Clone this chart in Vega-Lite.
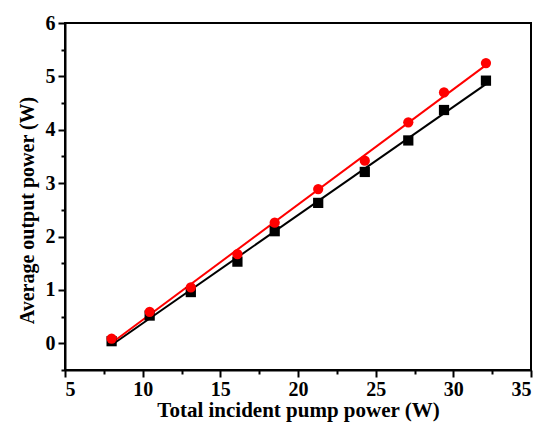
{
  "$schema": "https://vega.github.io/schema/vega-lite/v6.json",
  "width": 466,
  "height": 347,
  "autosize": {"type": "none"},
  "padding": {"left": 65, "top": 23, "right": 13, "bottom": 53},
  "background": "white",
  "config": {
    "view": {"stroke": "black", "strokeWidth": 2},
    "font": "Liberation Serif",
    "axis": {
      "domainColor": "black", "domainWidth": 2, "tickColor": "black", "tickWidth": 2,
      "labelFont": "Liberation Serif", "labelFontWeight": "bold", "labelFontSize": 20, "labelColor": "black",
      "titleFont": "Liberation Serif", "titleFontWeight": "bold", "titleFontSize": 20, "titleColor": "black",
      "grid": false
    },
    "legend": {
      "labelFont": "Liberation Serif", "labelFontWeight": "bold", "labelFontSize": 20, "labelColor": "black",
      "labelLimit": 0, "labelOffset": 28, "rowPadding": 12, "symbolSize": 110, "padding": 0
    }
  },
  "data": {
    "values": [
      {"x": 8.0, "y": 0.04, "series": "T=30%, L=80 Slope ηₛ=20.2%"},
      {"x": 10.45, "y": 0.52, "series": "T=30%, L=80 Slope ηₛ=20.2%"},
      {"x": 13.1, "y": 0.96, "series": "T=30%, L=80 Slope ηₛ=20.2%"},
      {"x": 16.1, "y": 1.53, "series": "T=30%, L=80 Slope ηₛ=20.2%"},
      {"x": 18.5, "y": 2.10, "series": "T=30%, L=80 Slope ηₛ=20.2%"},
      {"x": 21.3, "y": 2.63, "series": "T=30%, L=80 Slope ηₛ=20.2%"},
      {"x": 24.3, "y": 3.21, "series": "T=30%, L=80 Slope ηₛ=20.2%"},
      {"x": 27.1, "y": 3.80, "series": "T=30%, L=80 Slope ηₛ=20.2%"},
      {"x": 29.4, "y": 4.37, "series": "T=30%, L=80 Slope ηₛ=20.2%"},
      {"x": 32.1, "y": 4.92, "series": "T=30%, L=80 Slope ηₛ=20.2%"},
      {"x": 8.0, "y": 0.09, "series": "T=30%, L=20 Slope ηₛ=21.6%"},
      {"x": 10.45, "y": 0.59, "series": "T=30%, L=20 Slope ηₛ=21.6%"},
      {"x": 13.1, "y": 1.05, "series": "T=30%, L=20 Slope ηₛ=21.6%"},
      {"x": 16.1, "y": 1.67, "series": "T=30%, L=20 Slope ηₛ=21.6%"},
      {"x": 18.5, "y": 2.26, "series": "T=30%, L=20 Slope ηₛ=21.6%"},
      {"x": 21.3, "y": 2.89, "series": "T=30%, L=20 Slope ηₛ=21.6%"},
      {"x": 24.3, "y": 3.42, "series": "T=30%, L=20 Slope ηₛ=21.6%"},
      {"x": 27.1, "y": 4.14, "series": "T=30%, L=20 Slope ηₛ=21.6%"},
      {"x": 29.4, "y": 4.70, "series": "T=30%, L=20 Slope ηₛ=21.6%"},
      {"x": 32.1, "y": 5.25, "series": "T=30%, L=20 Slope ηₛ=21.6%"}
    ]
  },
  "encoding": {
    "x": {
      "field": "x", "type": "quantitative",
      "scale": {"domain": [5, 35], "nice": false, "zero": false},
      "axis": {
        "title": "Total incident pump power (W)",
        "titleFontSize": 21,
        "values": [5, 7.5, 10, 12.5, 15, 17.5, 20, 22.5, 25, 27.5, 30, 32.5, 35],
        "labelExpr": "datum.value % 5 === 0 ? datum.label : ''",
        "tickSize": {"condition": {"test": "datum.value % 5 === 0", "value": 7}, "value": 4},
        "labelPadding": 2, "titlePadding": 0
      }
    },
    "y": {
      "field": "y", "type": "quantitative",
      "scale": {"domain": [-0.5, 6], "nice": false, "zero": false},
      "axis": {
        "title": "Average output power (W)",
        "values": [-0.5, 0, 0.5, 1, 1.5, 2, 2.5, 3, 3.5, 4, 4.5, 5, 5.5, 6],
        "labelExpr": "datum.value % 1 === 0 ? format(datum.value, 'd') : ''",
        "tickSize": {"condition": {"test": "datum.value % 1 === 0", "value": 7}, "value": 4},
        "labelPadding": 3, "titlePadding": 8, "titleY": 187
      }
    }
  },
  "layer": [
    {
      "transform": [{"regression": "y", "on": "x", "groupby": ["series"]}],
      "mark": {"type": "line", "strokeWidth": 2},
      "encoding": {
        "stroke": {"field": "series", "type": "nominal",
          "scale": {"domain": ["T=30%, L=80 Slope ηₛ=20.2%", "T=30%, L=20 Slope ηₛ=21.6%"], "range": ["black", "red"]},
          "legend": null}
      }
    },
    {
      "mark": {"type": "point", "filled": true, "opacity": 1, "size": 105},
      "encoding": {
        "color": {"field": "series", "type": "nominal",
          "scale": {"domain": ["T=30%, L=80 Slope ηₛ=20.2%", "T=30%, L=20 Slope ηₛ=21.6%"], "range": ["black", "red"]},
          "legend": {"title": null, "orient": "none", "legendX": 38, "legendY": 29}
        },
        "shape": {"field": "series", "type": "nominal",
          "scale": {"domain": ["T=30%, L=80 Slope ηₛ=20.2%", "T=30%, L=20 Slope ηₛ=21.6%"], "range": ["square", "circle"]},
          "legend": {"title": null, "orient": "none", "legendX": 38, "legendY": 29}
        }
      }
    }
  ]
}
